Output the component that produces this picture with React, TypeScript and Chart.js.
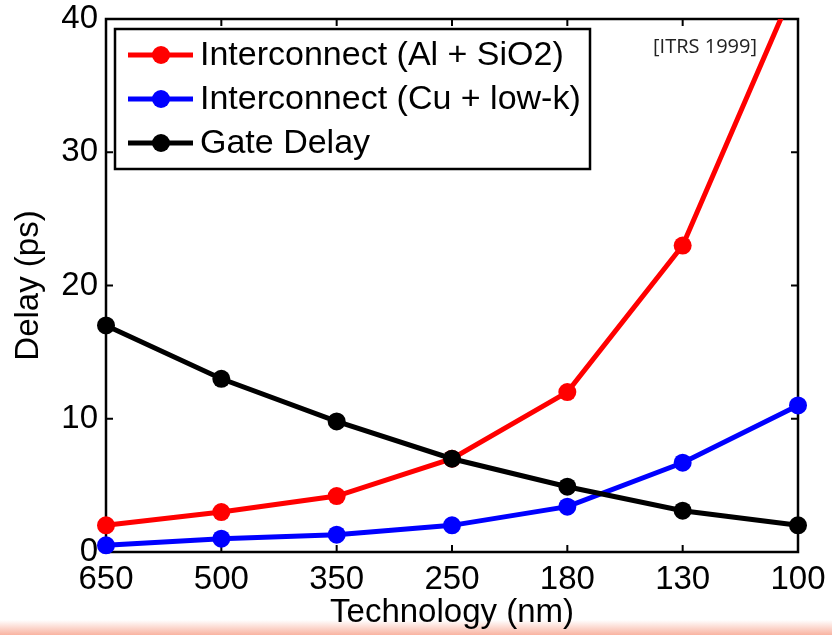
import React, { useEffect, useRef } from 'react';
import { Chart, registerables } from 'chart.js';

Chart.register(...registerables);

const categories = ['650', '500', '350', '250', '180', '130', '100'];
const alSio2 = [2.0, 3.0, 4.2, 7.0, 12.0, 23.0, 43.0];
const cuLowK = [0.5, 1.0, 1.3, 2.0, 3.4, 6.7, 11.0];
const gateDelay = [17.0, 13.0, 9.8, 7.0, 4.9, 3.1, 2.0];
const yTickValues = [0, 10, 20, 30, 40];
const seriesNames = ['Interconnect (Al + SiO2)', 'Interconnect (Cu + low-k)', 'Gate Delay'];
const seriesColors = ['#ff0000', '#0000ff', '#000000'];
const sourceNote = '[ITRS 1999]';
const xTitle = 'Technology (nm)';
const yTitle = 'Delay (ps)';

const FONT = '"Liberation Sans", Arial, sans-serif';

const frame = {
  id: 'matlabFrame',
  beforeDatasetsDraw(chart: any) {
    const { ctx, chartArea: a, scales } = chart;
    ctx.save();
    ctx.strokeStyle = '#000';
    ctx.lineWidth = 2.5;
    ctx.strokeRect(a.left, a.top, a.right - a.left, a.bottom - a.top);
    const tl = 7;
    ctx.lineWidth = 2;
    ctx.beginPath();
    for (let i = 0; i < categories.length; i++) {
      const x = scales.x.getPixelForTick(i);
      ctx.moveTo(x, a.bottom);
      ctx.lineTo(x, a.bottom - tl);
      ctx.moveTo(x, a.top);
      ctx.lineTo(x, a.top + tl);
    }
    for (const v of yTickValues) {
      const y = scales.y.getPixelForValue(v);
      ctx.moveTo(a.left, y);
      ctx.lineTo(a.left + tl, y);
      ctx.moveTo(a.right, y);
      ctx.lineTo(a.right - tl, y);
    }
    ctx.stroke();
    ctx.restore();
  },
  afterDatasetsDraw(chart: any) {
    const { ctx } = chart;
    ctx.save();
    // legend
    const lx = 115, ly = 29, lw = 475, lh = 140;
    ctx.fillStyle = '#fff';
    ctx.fillRect(lx, ly, lw, lh);
    ctx.strokeStyle = '#000';
    ctx.lineWidth = 2.5;
    ctx.strokeRect(lx, ly, lw, lh);
    const rows = [55, 99, 143];
    ctx.font = `34px ${FONT}`;
    ctx.textBaseline = 'middle';
    ctx.textAlign = 'left';
    seriesNames.forEach((name, i) => {
      const y = rows[i];
      ctx.strokeStyle = seriesColors[i];
      ctx.fillStyle = seriesColors[i];
      ctx.lineWidth = 5;
      ctx.beginPath();
      ctx.moveTo(128, y);
      ctx.lineTo(193, y);
      ctx.stroke();
      ctx.beginPath();
      ctx.arc(161, y, 9, 0, Math.PI * 2);
      ctx.fill();
      ctx.fillStyle = '#000';
      ctx.fillText(name, 200, y + 1);
    });
    // source note
    ctx.font = `20px "Open Sans", sans-serif`;
    ctx.textAlign = 'right';
    ctx.fillStyle = '#222';
    ctx.fillText(sourceNote, 757, 47);
    ctx.restore();
  },
};

export default function App() {
  const ref = useRef<HTMLCanvasElement>(null);
  useEffect(() => {
    if (!ref.current) return;
    const mk = (label: string, data: number[], color: string, order: number) => ({
      label,
      data,
      borderColor: color,
      backgroundColor: color,
      pointBackgroundColor: color,
      pointBorderWidth: 0,
      pointRadius: 9,
      borderWidth: 5,
      tension: 0,
      order,
      clip: { left: 14, right: 14, top: 0, bottom: 14 },
    });
    const chart = new Chart(ref.current, {
      type: 'line',
      data: {
        labels: categories,
        datasets: [
          mk(seriesNames[0], alSio2, seriesColors[0], 2),
          mk(seriesNames[1], cuLowK, seriesColors[1], 1),
          mk(seriesNames[2], gateDelay, seriesColors[2], 0),
        ],
      },
      options: {
        responsive: false,
        animation: false,
        devicePixelRatio: 1,
        layout: { padding: { top: 19, right: 34, left: 0, bottom: 0 } },
        plugins: { legend: { display: false }, tooltip: { enabled: false } },
        scales: {
          x: {
            type: 'category',
            offset: false,
            grid: { display: false, drawTicks: false },
            border: { display: false },
            ticks: {
              color: '#000',
              font: { family: FONT, size: 33 },
              padding: 8,
              maxRotation: 0,
              autoSkip: false,
            },
            title: {
              display: true,
              text: xTitle,
              color: '#000',
              font: { family: FONT, size: 33 },
              padding: { top: 0, bottom: 2 },
            },
            afterFit: (s: any) => {
              s.height = 83;
              s.paddingLeft = 0;
              s.paddingRight = 0;
            },
          },
          y: {
            min: 0,
            max: 40,
            grid: { display: false, drawTicks: false },
            border: { display: false },
            ticks: {
              color: '#000',
              stepSize: 10,
              font: { family: FONT, size: 33 },
              padding: 8,
            },
            title: {
              display: true,
              text: yTitle,
              color: '#000',
              font: { family: FONT, size: 33 },
              padding: { top: 9, bottom: 0 },
            },
            afterFit: (s: any) => {
              s.width = 106;
              s.paddingTop = 0;
              s.paddingBottom = 0;
            },
          },
        },
      },
      plugins: [frame],
    });
    return () => chart.destroy();
  }, []);
  return (
    <div style={{ position: 'fixed', left: 0, top: 0, width: 832, height: 635, background: '#fff', overflow: 'hidden' }}>
      <div
        style={{
          position: 'absolute',
          left: 0,
          top: 620,
          width: 832,
          height: 15,
          background: 'linear-gradient(to bottom, rgba(255,255,255,0), #f9b3a1)',
        }}
      />
      <canvas ref={ref} width={832} height={635} style={{ position: 'absolute', left: 0, top: 0 }} />
    </div>
  );
}
